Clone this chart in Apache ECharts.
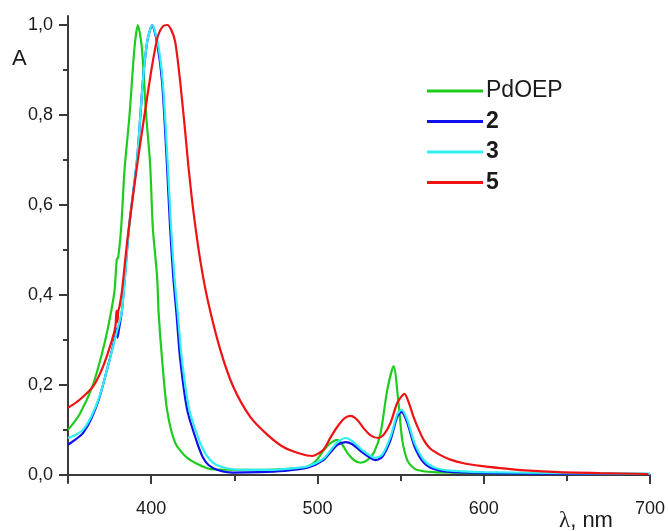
<!DOCTYPE html>
<html>
<head>
<meta charset="utf-8">
<script src="https://cdn.jsdelivr.net/npm/echarts@6/dist/echarts.min.js"></script>
<style>
html,body{margin:0;padding:0;background:#fff;}
#chart{width:668px;height:531px;}
</style>
</head>
<body>
<div id="chart"></div>
<script>
// ---- data ----
var seriesNames = ['PdOEP', '2', '3', '5'];

var pdoepX = [350,357,365,371,375,378,379.3,380.2,382,384,387,390,392,394.4,397,399.4,401,403.6,404.5,406.6,409.6,414.5,421.7,433.7,440,460,480,492,496,500,504,508,512,515,518,522,526,530,534,538,542,545.8,549,551,554,557,560,570,600,650,700];
var pdoepY = [0.10,0.135,0.20,0.278,0.345,0.41,0.478,0.484,0.551,0.678,0.80,0.95,1.0,0.95,0.80,0.69,0.55,0.44,0.36,0.256,0.144,0.071,0.038,0.015,0.012,0.011,0.013,0.016,0.022,0.035,0.056,0.071,0.078,0.067,0.049,0.033,0.027,0.033,0.05,0.093,0.189,0.242,0.151,0.078,0.033,0.018,0.011,0.006,0.004,0.003,0.002];

var c2X = [350,355,359,364,369,375,378.5,379.3,379.8,380.5,382.5,386.7,391.5,395,397.6,400.6,403.6,406.6,409.5,411.4,413.3,415.2,417.5,421.7,427.7,431,434.5,440,449,465,480,494,503.6,509,512,517,521,527,533,535,539,544,548,550.6,554,558.5,564,570,578,600,650,700];
var c2Y = [0.067,0.08,0.093,0.125,0.173,0.256,0.31,0.325,0.305,0.32,0.367,0.55,0.70,0.873,0.962,1.0,0.96,0.873,0.69,0.55,0.44,0.36,0.256,0.144,0.071,0.04,0.022,0.011,0.005,0.006,0.009,0.016,0.033,0.055,0.067,0.073,0.068,0.05,0.035,0.033,0.04,0.078,0.129,0.14,0.116,0.062,0.027,0.013,0.007,0.004,0.002,0.002];

var c3X = [350,355,359,364,369,375,379.5,382.5,386.7,391.5,395,397.6,400.6,404,407,410,412,414,416,418.5,423,429.5,433,437,442,450,465,480,494,503.6,509,512,517,521,527,533,535,539,544,548,550.6,554,558.5,564,570,578,600,650,700];
var c3Y = [0.082,0.09,0.10,0.13,0.175,0.255,0.32,0.367,0.55,0.70,0.873,0.962,1.0,0.96,0.873,0.69,0.55,0.44,0.36,0.256,0.144,0.071,0.045,0.028,0.018,0.012,0.011,0.013,0.019,0.036,0.06,0.073,0.082,0.075,0.055,0.04,0.038,0.045,0.085,0.135,0.145,0.123,0.07,0.033,0.017,0.01,0.006,0.004,0.003];

var c5X = [350,357,365,371,376.5,378.5,379.2,379.7,380.3,381,382.5,385.5,388.5,392,396,400.6,404,407,409.6,412,414.5,417.5,420.5,422.3,425.3,429.5,434,441.6,449.4,459.6,470,479.5,489.8,497,503.6,508,512,516,520,524,527.7,532,536.7,540,544,548,552.4,555,557.8,561,563.9,568,574,580,588,598,610,625,645,670,699];
var c5Y = [0.149,0.167,0.196,0.24,0.30,0.33,0.365,0.34,0.365,0.375,0.41,0.516,0.604,0.70,0.80,0.91,0.975,0.997,1.0,0.99,0.962,0.873,0.762,0.69,0.589,0.478,0.389,0.278,0.196,0.129,0.089,0.062,0.047,0.042,0.056,0.084,0.107,0.125,0.131,0.122,0.104,0.088,0.082,0.09,0.116,0.16,0.18,0.16,0.129,0.10,0.078,0.058,0.044,0.034,0.026,0.02,0.015,0.01,0.006,0.004,0.002];

var xMajorTicks = [400, 500, 600, 700];
var xMinorTicks = [350, 450, 550, 650];
var yMajorTicks = [0, 0.2, 0.4, 0.6, 0.8, 1.0];
var yMinorTicks = [0.1, 0.3, 0.5, 0.7, 0.9];

// ---- chart ----
function pairs(xs, ys) { return xs.map(function (x, i) { return [x, ys[i]]; }); }
var colors = ['#1ecc1e', '#1010ee', '#30eef2', '#f01212'];
var axisColor = '#3a3a3a';
var font = '"Liberation Sans", Arial, sans-serif';

var chart = echarts.init(document.getElementById('chart'), null, {renderer: 'canvas'});
var dataSets = [pairs(pdoepX, pdoepY), pairs(c2X, c2Y), pairs(c3X, c3Y), pairs(c5X, c5Y)];

var option = {
  animation: false,
  backgroundColor: '#fff',
  grid: {left: 68, right: 18, top: 16, bottom: 48, containLabel: false},
  xAxis: [{
    type: 'value', min: 350, max: 700, position: 'bottom',
    axisLine: {show: true, lineStyle: {color: axisColor, width: 2}},
    axisTick: {show: true, inside: false, length: 9, customValues: xMajorTicks, lineStyle: {color: axisColor, width: 2}},
    axisLabel: {show: true, customValues: xMajorTicks, margin: 17, fontSize: 18, fontFamily: font, color: '#1a1a1a'},
    splitLine: {show: false}
  }, {
    type: 'value', min: 350, max: 700, position: 'bottom',
    axisLine: {show: false},
    axisTick: {show: true, length: 6, customValues: xMinorTicks, lineStyle: {color: axisColor, width: 2}},
    axisLabel: {show: false},
    splitLine: {show: false}
  }],
  yAxis: [{
    type: 'value', min: -0.018, max: 1.02, position: 'left',
    axisLine: {show: true, lineStyle: {color: axisColor, width: 2}},
    axisTick: {show: true, length: 9, customValues: yMajorTicks, lineStyle: {color: axisColor, width: 2}},
    axisLabel: {show: true, customValues: yMajorTicks, margin: 15, fontSize: 18, fontFamily: font, color: '#1a1a1a',
      formatter: function (v) { return v.toFixed(1).replace('.', ','); }},
    splitLine: {show: false}
  }, {
    type: 'value', min: -0.018, max: 1.02, position: 'left',
    axisLine: {show: false},
    axisTick: {show: true, length: 5, customValues: yMinorTicks, lineStyle: {color: axisColor, width: 2}},
    axisLabel: {show: false},
    splitLine: {show: false}
  }],
  legend: {
    orient: 'vertical', left: 422, top: 71,
    itemWidth: 56, itemHeight: 3, itemGap: 0.5,
    icon: 'rect',
    textStyle: {fontSize: 23, fontFamily: font, color: '#1a1a1a', lineHeight: 30, padding: [0, 0, 0, -2]},
    data: seriesNames.map(function (n, i) {
      return {name: n, textStyle: {fontWeight: i === 0 ? 'normal' : 'bold'}};
    })
  },
  graphic: [
    {type: 'text', left: 12, top: 48, style: {text: 'A', font: '22px ' + font, fill: '#1a1a1a'}},
    {type: 'text', left: 559, top: 509, style: {
      text: '{s|λ}, nm', font: '22px ' + font, fill: '#1a1a1a',
      rich: {s: {fontFamily: '"Liberation Serif", "DejaVu Serif", serif', fontSize: 23, fill: '#1a1a1a'}}
    }}
  ],
  series: seriesNames.map(function (n, i) {
    return {
      name: n, type: 'line', xAxisIndex: 0, yAxisIndex: 0,
      data: dataSets[i], showSymbol: false, symbol: 'none',
      smooth: 0.25,
      lineStyle: {color: colors[i], width: 2.2},
      itemStyle: {color: colors[i]},
      z: 2 + i
    };
  })
};
chart.setOption(option);
</script>
</body>
</html>
